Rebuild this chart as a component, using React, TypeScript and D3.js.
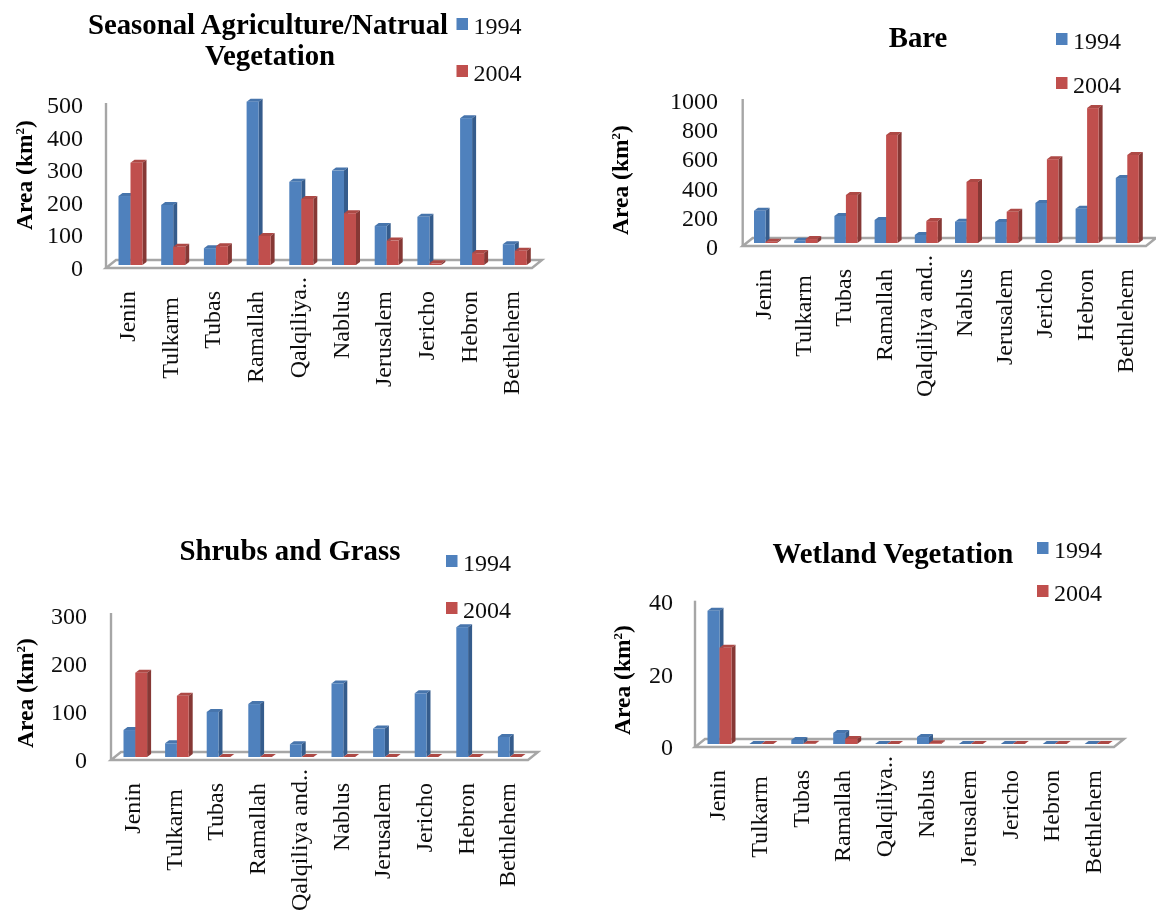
import React from 'react';
import * as d3 from 'd3';

const districts = ['Jenin', 'Tulkarm', 'Tubas', 'Ramallah', 'Qalqiliya', 'Nablus', 'Jerusalem', 'Jericho', 'Hebron', 'Bethlehem'];
const labelsShort = ['Jenin', 'Tulkarm', 'Tubas', 'Ramallah', 'Qalqiliya..', 'Nablus', 'Jerusalem', 'Jericho', 'Hebron', 'Bethlehem'];
const labelsLong = ['Jenin', 'Tulkarm', 'Tubas', 'Ramallah', 'Qalqiliya and..', 'Nablus', 'Jerusalem', 'Jericho', 'Hebron', 'Bethlehem'];

const seasonal1994 = [209, 182, 51, 495, 252, 286, 118, 146, 445, 63];
const seasonal2004 = [310, 55, 57, 88, 200, 157, 74, 5, 36, 43];
const bare1994 = [221, 16, 185, 158, 55, 146, 144, 274, 235, 445];
const bare2004 = [9, 27, 329, 740, 150, 418, 214, 574, 924, 603];
const shrubs1994 = [55, 28, 92, 108, 26, 150, 58, 130, 265, 41];
const shrubs2004 = [172, 125, 0, 0, 0, 0, 0, 0, 0, 0];
const wetland1994 = [36.5, 0, 1.1, 3, 0, 1.9, 0, 0, 0, 0];
const wetland2004 = [26.4, 0, 0.1, 1.4, 0, 0.2, 0, 0, 0, 0];

const ticksSeasonal = [0, 100, 200, 300, 400, 500];
const ticksBare = [0, 200, 400, 600, 800, 1000];
const ticksShrubs = [0, 100, 200, 300];
const ticksWetland = [0, 20, 40];

const FONT = '"Liberation Serif", "Times New Roman", serif';
const BLUE = { front: '#4F81BD', side: '#365C8C', top: '#4674AC' };
const RED = { front: '#C0504D', side: '#863836', top: '#AD4845' };
const DX = 4;
const DY = 3;

type PanelCfg = {
  title: { text: string; x: number; y: number }[];
  v1994: number[]; v2004: number[]; labels: string[]; ticks: number[]; max: number;
  axisX: number; axisTop: number; axisBottom: number;
  barX: number; barW: number; barStep: number; base: number; valueTop: number;
  floorRight: number;
  tickRight: number; tickTopY: number; tickBottomY: number;
  titleY: { x: number; y: number };
  labelX: number; labelStep: number; labelEnd: number;
  legendX: number; legendY: [number, number];
};

const panels: PanelCfg[] = [
  {
    title: [{ text: 'Seasonal Agriculture/Natrual', x: 268, y: 24 }, { text: 'Vegetation', x: 270, y: 55 }],
    v1994: seasonal1994, v2004: seasonal2004, labels: labelsShort, ticks: ticksSeasonal, max: 500,
    axisX: 106, axisTop: 103, axisBottom: 268, barX: 118.5, barW: 12, barStep: 42.7, base: 265, valueTop: 100,
    floorRight: 532, tickRight: 83, tickTopY: 105, tickBottomY: 268,
    titleY: { x: 24, y: 175 }, labelX: 127, labelStep: 42.7, labelEnd: 291,
    legendX: 456.5, legendY: [24, 71],
  },
  {
    title: [{ text: 'Bare', x: 918, y: 37 }],
    v1994: bare1994, v2004: bare2004, labels: labelsLong, ticks: ticksBare, max: 1000,
    axisX: 742.7, axisTop: 99, axisBottom: 246, barX: 754, barW: 11.5, barStep: 40.2, base: 243, valueTop: 97,
    floorRight: 1146, tickRight: 718, tickTopY: 101, tickBottomY: 247,
    titleY: { x: 620, y: 180 }, labelX: 763, labelStep: 40.2, labelEnd: 269,
    legendX: 1056, legendY: [39, 83],
  },
  {
    title: [{ text: 'Shrubs and Grass', x: 290, y: 550 }],
    v1994: shrubs1994, v2004: shrubs2004, labels: labelsLong, ticks: ticksShrubs, max: 300,
    axisX: 111, axisTop: 613, axisBottom: 760, barX: 123.5, barW: 11.8, barStep: 41.6, base: 757, valueTop: 610,
    floorRight: 528, tickRight: 87, tickTopY: 616, tickBottomY: 760,
    titleY: { x: 25, y: 693 }, labelX: 132, labelStep: 41.7, labelEnd: 783,
    legendX: 446, legendY: [561, 608],
  },
  {
    title: [{ text: 'Wetland Vegetation', x: 893, y: 553 }],
    v1994: wetland1994, v2004: wetland2004, labels: labelsShort, ticks: ticksWetland, max: 40,
    axisX: 695, axisTop: 600.7, axisBottom: 747, barX: 707.5, barW: 12, barStep: 41.9, base: 744, valueTop: 598,
    floorRight: 1114, tickRight: 673, tickTopY: 602, tickBottomY: 747,
    titleY: { x: 622, y: 680 }, labelX: 717, labelStep: 41.8, labelEnd: 770,
    legendX: 1037, legendY: [548, 591],
  },
];

function Bar({ x, w, y, base, c }: { x: number; w: number; y: number; base: number; c: typeof BLUE }) {
  const h = base - y;
  return (
    <g>
      <polygon points={`${x},${y} ${x + DX},${y - DY} ${x + w + DX},${y - DY} ${x + w},${y}`} fill={c.top} />
      {h > 0 && <polygon points={`${x + w},${y} ${x + w + DX},${y - DY} ${x + w + DX},${base - DY} ${x + w},${base}`} fill={c.side} />}
      {h > 0 && <rect x={x} y={y} width={w} height={h} fill={c.front} />}
    </g>
  );
}

function Panel({ p }: { p: PanelCfg }) {
  const xBand = d3.scaleBand<string>().domain(districts).range([p.barX, p.barX + p.barStep * districts.length]);
  const xLabel = d3.scalePoint<string>().domain(districts).range([p.labelX, p.labelX + p.labelStep * (districts.length - 1)]);
  const y = d3.scaleLinear().domain([0, p.max]).range([p.base, p.valueTop]);
  const yTick = d3.scaleLinear().domain([0, p.max]).range([p.tickBottomY, p.tickTopY]);
  const floorDX = 10;
  const floorDY = 8;
  const gray = '#A6A6A6';
  return (
    <g>
      <polygon
        points={`${p.axisX},${p.axisBottom} ${p.axisX + floorDX},${p.axisBottom - floorDY} ${p.floorRight + floorDX},${p.axisBottom - floorDY} ${p.floorRight},${p.axisBottom}`}
        fill="#fff" stroke={gray} strokeWidth={2.4}
      />
      <line x1={p.axisX} x2={p.axisX} y1={p.axisTop} y2={p.axisBottom} stroke={gray} strokeWidth={2.4} />
      {districts.map((d, i) => {
        const x0 = xBand(d) as number;
        return (
          <g key={d}>
            <Bar x={x0} w={p.barW} y={y(p.v1994[i])} base={p.base} c={BLUE} />
            <Bar x={x0 + p.barW} w={p.barW} y={y(p.v2004[i])} base={p.base} c={RED} />
          </g>
        );
      })}
      {p.ticks.map(t => (
        <text key={t} x={p.tickRight} y={yTick(t)} textAnchor="end" dominantBaseline="central" fontSize={24} fill="#111">{t}</text>
      ))}
      {districts.map((d, i) => {
        const lx = xLabel(d) as number;
        const label = p.labels[i];
        const ey = p.labelEnd + (d === 'Tulkarm' ? 6 : d === 'Qalqiliya' ? -14 : 0);
        return (
          <text key={d} transform={`translate(${lx},${ey}) rotate(-90)`} textAnchor="end" dominantBaseline="central" fontSize={24} fill="#111">{label}</text>
        );
      })}
      {p.title.map(t => (
        <text key={t.text} x={t.x} y={t.y} textAnchor="middle" dominantBaseline="central" fontSize={28.8} fontWeight="bold" fill="#000">{t.text}</text>
      ))}
      <text transform={`translate(${p.titleY.x},${p.titleY.y}) rotate(-90)`} textAnchor="middle" dominantBaseline="central" fontSize={23.5} fontWeight="bold" fill="#000">
        Area (km<tspan fontSize={13} dy={-5}>2</tspan><tspan dy={5}>)</tspan>
      </text>
      {(['1994', '2004'] as const).map((s, i) => (
        <g key={s}>
          <rect x={p.legendX} y={p.legendY[i] - 6} width={11.5} height={12} fill={i === 0 ? BLUE.front : RED.front} />
          <text x={p.legendX + 17} y={p.legendY[i] + 2} dominantBaseline="central" fontSize={24} fill="#111">{s}</text>
        </g>
      ))}
    </g>
  );
}

export default function App() {
  return (
    <svg width={1159} height={913} style={{ position: 'absolute', left: 0, top: 0, background: '#fff' }} fontFamily={FONT}>
      <defs>
        <filter id="soft" x="0" y="0" width="100%" height="100%"><feGaussianBlur stdDeviation="0.4" /></filter>
      </defs>
      <g filter="url(#soft)">
        {panels.map((p, i) => <Panel key={i} p={p} />)}
      </g>
    </svg>
  );
}
